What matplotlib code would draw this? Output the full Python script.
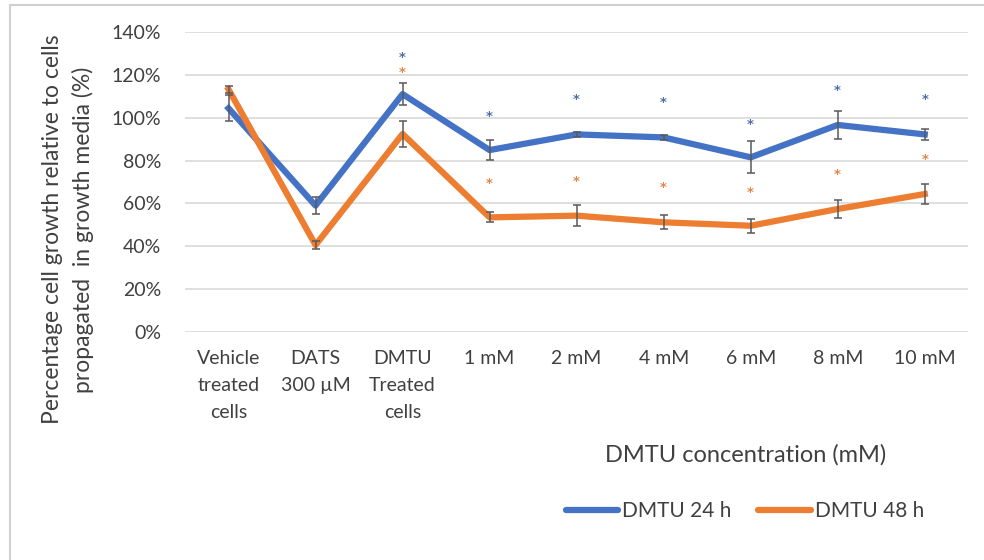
import matplotlib
matplotlib.use("Agg")
import matplotlib.pyplot as plt
from matplotlib.lines import Line2D
from matplotlib.ticker import PercentFormatter

plt.rcParams['font.family'] = ['Lato', 'DejaVu Sans']

categories = ["Vehicle\ntreated\ncells", "DATS\n300 µM", "DMTU\nTreated\ncells",
              "1 mM", "2 mM", "4 mM", "6 mM", "8 mM", "10 mM"]

# mean growth (%) and error (%) for each series
growth_24h = [104.4, 59.0, 111.0, 84.9, 92.2, 90.8, 81.5, 96.6, 92.2]
err_24h = [6.0, 4.0, 5.0, 4.5, 1.0, 1.0, 7.5, 6.4, 2.7]
growth_48h = [113.2, 40.6, 92.4, 53.5, 54.3, 51.2, 49.6, 57.4, 64.4]
err_48h = [1.5, 2.0, 6.0, 2.3, 5.0, 3.3, 3.2, 4.2, 4.6]

# significance asterisk heights (%)
star_24h = [None, None, 128.5, 101.3, 109.0, 107.8, 97.7, 113.4, 109.0]
star_48h = [None, None, 121.5, 70.1, 70.9, 68.1, 65.8, 74.0, 81.0]

yticks = [0, 20, 40, 60, 80, 100, 120, 140]

BLUE = "#4472C4"
ORANGE = "#ED7D31"
GRID = "#D9D9D9"
TEXT = "#404040"

fig = plt.figure(figsize=(9.84, 5.6), dpi=100)
ax = fig.add_axes([0.188, 0.407, 0.796, 0.536])

x = list(range(len(categories)))
ax.plot(x, growth_24h, color=BLUE, lw=4.5, solid_joinstyle="round", zorder=3)
ax.plot(x, growth_48h, color=ORANGE, lw=4.5, solid_joinstyle="round", zorder=3)
for vals, errs in ((growth_24h, err_24h), (growth_48h, err_48h)):
    ax.errorbar(x, vals, yerr=errs, fmt="none", ecolor="#595959",
                elinewidth=1.1, capsize=3.2, capthick=1.1, zorder=4)

for stars, col in ((star_24h, "#4F6FA8"), (star_48h, "#E0874A")):
    for xi, s in zip(x, stars):
        if s is not None:
            ax.annotate("*", (xi, s), xytext=(0, -1), textcoords="offset points",
                        color=col, ha="center", va="center",
                        fontsize=9.5, fontweight="bold", family="DejaVu Sans",
                        zorder=5)

ax.set_xlim(-0.5, len(categories) - 0.5)
ax.set_ylim(0, 140)
ax.set_yticks(yticks)
ax.yaxis.set_major_formatter(PercentFormatter(decimals=0))
ax.set_xticks(x)
ax.set_xticklabels(categories, linespacing=1.7)
ax.tick_params(axis="both", length=0, labelsize=14, colors=TEXT)
ax.tick_params(axis="y", pad=17)
ax.tick_params(axis="x", pad=13)
ax.grid(axis="y", color=GRID, lw=1.2)
ax.set_axisbelow(True)
for sp in ax.spines.values():
    sp.set_visible(False)

fig.text(0.069, 0.59, "Percentage cell growth relative to cells\npropagated  in growth media (%)",
         rotation=90, ha="center", va="center", fontsize=16.5, color=TEXT,
         linespacing=1.45)
fig.text(0.758, 0.188, "DMTU concentration (mM)", ha="center", va="center",
         fontsize=17, color=TEXT)

handles = [Line2D([], [], color=BLUE, lw=4.5, solid_capstyle="round"),
           Line2D([], [], color=ORANGE, lw=4.5, solid_capstyle="round")]
fig.legend(handles, ["DMTU 24 h", "DMTU 48 h"], loc="center",
           bbox_to_anchor=(0.757, 0.087), ncol=2, frameon=False,
           fontsize=15, handlelength=2.5, handletextpad=0.2,
           columnspacing=1.3, labelcolor=TEXT)

# outer chart-area frame on the top and left edges
fig.add_artist(Line2D([0.010, 0.010], [0.0, 0.991], color="#D0D0D0", lw=1.5))
fig.add_artist(Line2D([0.010, 1.0], [0.991, 0.991], color="#D0D0D0", lw=1.5))

fig.savefig("out.png", dpi=100, facecolor="white")
